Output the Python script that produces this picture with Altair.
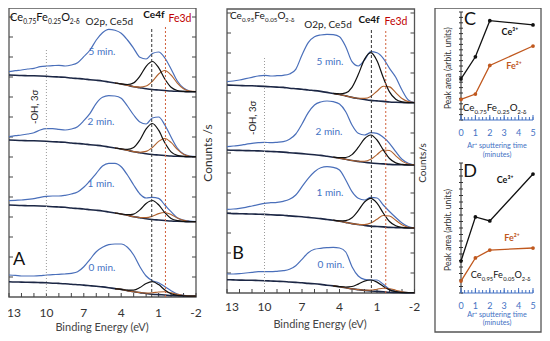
import altair as alt
import pandas as pd

FONT = "Lato"
BLUE = "#4A6FBA"
NAVY = "#1C2745"
BROWN = "#B0622E"
LABEL_BLUE = "#4472C4"
RED = "#C00000"
FRAME = "#555555"

# ---------------- data ----------------
E_GRID = [13, 12.5, 12, 11.5, 11, 10.5, 10, 9.5, 9, 8.5, 8, 7.5, 7, 6.5, 6, 5.5, 5,
          4.5, 4, 3.5, 3, 2.5, 2, 1.5, 1, 0.5, 0, -0.5, -1, -1.5, -2]
E_PEAK = [4.5, 4, 3.5, 3, 2.5, 2, 1.5, 1, 0.5, 0, -0.5, -1, -1.5, -2]

# Panel A  (Ce0.75Fe0.25O2-d)
A_5 = [225.3, 226.3, 227, 228, 228.7, 230.3, 231, 231.3, 231.7, 231, 232, 234.3, 240.3, 247, 257, 264.3,
       267.7, 266.7, 263.7, 257, 248.7, 239.7, 238, 243.5, 245, 239, 228, 216, 209, 206, 205.3]
A_2 = [160.3, 161.3, 162, 163, 164.3, 167, 168.3, 168.3, 167.7, 167, 168, 170.3, 176.3, 183.7, 193.7, 199.7,
       201.3, 201, 198.7, 191, 182, 175, 173, 179, 180, 172, 160, 149, 143, 141, 140.5]
A_1 = [96.3, 96.7, 97, 97.7, 98.3, 99.7, 100.7, 101, 101, 101.7, 103, 105, 109.7, 116.3, 123.7, 131,
       133.7, 133.7, 130.3, 122, 112, 103, 99, 99.7, 98.6, 92, 85.3, 79.3, 77, 76, 75.5]
A_0 = [22, 21.7, 21, 21, 21, 21.3, 22, 22.3, 22.7, 23, 23.7, 25.3, 30.3, 37.7, 45.3, 49.7,
       52.3, 53, 53, 49.7, 42, 30.3, 21, 16.3, 14.3, 10.3, 6.3, 3, 1.7, 1, 1]
A_5_BG = [222, 221.7, 221.5, 221.3, 221.2, 221, 220.7, 220.3, 220, 219.7, 219, 218.5, 218, 217.3, 216.7, 216,
          215, 214, 213, 211.7, 210.3, 209.3, 208.3, 207.5, 207, 206.5, 206, 205.7, 205.5, 205.3, 205.3]
A_2_BG = [157, 156.7, 156.5, 156.3, 156.2, 156, 155.7, 155.3, 155, 154.7, 154, 153.5, 153, 152.3, 151.7, 151,
          150, 149, 148, 146.7, 145.3, 144.3, 143.3, 142.5, 142, 141.5, 141, 140.7, 140.5, 140.3, 140.3]
A_1_BG = [92, 91.7, 91.5, 91.3, 91.2, 91, 90.7, 90.3, 90, 89.7, 89, 88.5, 88, 87.3, 86.7, 86,
          85, 84, 83, 81.7, 80.3, 79.3, 78.3, 77.5, 77, 76.5, 76, 75.7, 75.5, 75.3, 75.3]
A_0_BG = [15.3, 15.0, 14.9, 14.7, 14.6, 14.4, 14.2, 13.8, 13.6, 13.3, 12.7, 12.3, 11.9, 11.3, 10.7, 10.1,
          9.3, 8.4, 7.6, 6.4, 5.2, 4.4, 3.5, 2.8, 2.4, 2.0, 1.5, 1.3, 1.1, 0.9, 0.9]
A_5_CE = [214, 213.1, 212.5, 214.1, 220.8, 230.7, 235.5, 229.4, 218.0, 209.8, 206.5, 205.6, 205.3, 205.3]
A_5_FE = [214, 213, 211.7, 210.4, 209.9, 211.0, 215.7, 223.0, 226.5, 222.0, 213.9, 208.2, 205.9, 205.4]
A_2_CE = [149, 148.1, 147.6, 149.5, 157.0, 168.1, 173.5, 166.8, 154.2, 145.2, 141.6, 140.6, 140.3, 140.3]
A_2_FE = [149, 148, 146.7, 145.4, 144.8, 145.6, 149.5, 155.6, 158.5, 154.6, 147.7, 142.8, 140.8, 140.4]
A_1_CE = [84, 83, 82.3, 82.9, 87.1, 93.5, 96.5, 92.2, 84.3, 78.6, 76.3, 75.6, 75.3, 75.3]
A_1_FE = [84, 83, 81.7, 80.3, 79.5, 79.4, 80.8, 83.4, 84.5, 82.4, 79.0, 76.6, 75.5, 75.3]
A_0_CE = [8.4, 7.6, 6.8, 6.9, 9.5, 13.5, 15.3, 12.4, 7.1, 3.2, 1.7, 1.2, 0.9, 0.9]
A_0_FE = [8.4, 7.6, 6.4, 5.2, 4.5, 3.9, 4.2, 5.0, 5.3, 4.1, 2.7, 1.5, 1.0, 0.9]

# Panel B  (Ce0.95Fe0.05O2-d)
B_5 = [211.3, 212, 213, 214.3, 215.7, 217, 217.7, 217, 217.3, 217.7, 219, 223.7, 238, 250.3, 256.3, 258,
       258.7, 258.3, 256.3, 246.3, 231.3, 227, 233, 241.3, 240.3, 234.7, 224.7, 215.7, 203, 193, 190.3]
B_2 = [146.3, 147, 147.7, 148.7, 149.7, 150.3, 150.7, 150.3, 150.7, 151.3, 153.7, 159, 169, 180.3, 188, 191,
       192, 191.3, 189, 181.3, 168, 159.7, 158, 160.3, 159.7, 155.7, 149.7, 141.3, 133.7, 129.7, 128]
B_1 = [83.7, 84, 84.7, 85.7, 87, 88.3, 89.7, 90.3, 90.7, 91.7, 93.7, 98, 106.3, 114.7, 121.3, 125.3,
       126.3, 125.7, 123, 113, 101.3, 94.7, 93, 95.7, 95, 88, 81.5, 75.5, 70, 66.5, 65]
B_0 = [19, 19, 19.3, 20, 20.7, 21.3, 21.3, 21.3, 21.7, 22.3, 23.7, 27.3, 33.7, 40.3, 43.7, 44.7,
       45.3, 45.7, 45, 41, 26.3, 17, 13.7, 13, 13, 8.7, 4, 1.7, 0.8, 0.4, 0.3]
B_5_BG = [208, 207.7, 207.5, 207.3, 207.2, 206.9, 206.6, 206.2, 205.9, 205.6, 204.8, 204.3, 203.8, 203.0, 202.4, 201.6,
          200.6, 199.5, 198.5, 197.1, 195.6, 194.5, 193.5, 192.6, 192.1, 191.6, 191.0, 190.7, 190.5, 190.3, 190.3]
B_2_BG = [143, 142.7, 142.6, 142.4, 142.3, 142.1, 141.8, 141.5, 141.2, 140.9, 140.3, 139.9, 139.4, 138.8, 138.2, 137.6,
          136.7, 135.8, 134.9, 133.7, 132.5, 131.6, 130.7, 130.0, 129.5, 129.1, 128.6, 128.3, 128.2, 128.0, 128.0]
B_1_BG = [79.7, 79.4, 79.3, 79.1, 79.0, 78.8, 78.6, 78.2, 77.9, 77.7, 77.1, 76.6, 76.2, 75.6, 75.0, 74.4,
          73.5, 72.7, 71.8, 70.6, 69.4, 68.5, 67.6, 66.9, 66.5, 66.1, 65.6, 65.4, 65.2, 65.0, 65.0]
B_0_BG = [13.3, 13.1, 12.9, 12.8, 12.7, 12.5, 12.3, 12.0, 11.7, 11.5, 11.0, 10.6, 10.2, 9.6, 9.2, 8.6,
          7.8, 7.1, 6.3, 5.3, 4.2, 3.4, 2.6, 2.0, 1.6, 1.2, 0.8, 0.6, 0.4, 0.3, 0.3]
B_5_CE = [199.6, 199.1, 200.1, 205.7, 218.4, 233.6, 240.3, 232.2, 215.5, 201.1, 193.7, 191.1, 190.4, 190.3]
B_5_FE = [199.5, 198.5, 197.1, 195.6, 194.7, 194.6, 196.6, 201.8, 206.7, 206.1, 200.4, 194.5, 191.4, 190.5]
B_2_CE = [135.9, 135.3, 135.5, 138.4, 145.6, 154.2, 158.0, 153.0, 143.1, 134.5, 130.1, 128.6, 128.1, 128.0]
B_2_FE = [135.8, 134.9, 133.7, 132.5, 131.8, 131.7, 133.7, 138.4, 143.0, 142.5, 137.2, 131.9, 129.0, 128.2]
B_1_CE = [72.8, 72.2, 72.4, 75.3, 82.4, 91.0, 94.7, 89.9, 80.0, 71.5, 67.2, 65.6, 65.1, 65.0]
B_1_FE = [72.7, 71.8, 70.6, 69.4, 68.6, 68.4, 69.9, 73.8, 77.5, 77.0, 72.7, 68.2, 65.8, 65.1]
B_0_CE = [7.1, 6.4, 6.0, 6.5, 8.9, 11.9, 13.0, 10.9, 6.7, 3.1, 1.3, 0.5, 0.3, 0.3]
B_0_FE = [7.1, 6.3, 5.3, 4.2, 3.4, 2.8, 2.9, 3.8, 4.7, 4.3, 2.8, 1.3, 0.5, 0.3]

# Peak positions (eV)
A_LINES = [10, 1.55, 0.45]
B_LINES = [10, 1.45, 0.3]

# Panels C / D : peak areas vs sputtering time
TIME = [0, 1, 2, 5]
C_CE = [38, 58.5, 92, 88]
C_FE = [19, 24, 50.5, 68.5]
D_CE = [24.6, 58.5, 55.4, 91.5]
D_FE = [9.2, 27, 33, 34.6]

# compositions (main text, subscript)
FORMULA_A = [("Ce", False), ("0.75", True), ("Fe", False), ("0.25", True), ("O", False), ("2-δ", True)]
FORMULA_B = [("Ce", False), ("0.95", True), ("Fe", False), ("0.05", True), ("O", False), ("2-δ", True)]

# ticks & labels
BE_LABELS = [10, 7, 4, 1, -2]
BE_FIRST = [13]
BE_TICKS = [13, 12, 11, 10, 9, 8, 7, 6, 5, 4, 3, 2, 1, 0, -1, -2]
COUNT_TICKS = [20, 40, 60, 80, 100, 120, 140, 160, 180, 200, 220, 240, 260, 280]
T_LABELS = [0, 1, 2, 3, 4, 5]
T_MINOR = [i / 4 for i in range(21)]
AREA_TICKS = [i * 5 for i in range(21)]
SCAN_LABELS = ["5 min.", "2 min.", "1 min.", "0 min."]

# approximate Lato advance widths (em) used to chain formula pieces
LATO_W = {"C": 0.67, "e": 0.53, "F": 0.55, "O": 0.77, ".": 0.24, "-": 0.37, "δ": 0.55}

# ---------------- scales ----------------
SX_A = alt.Scale(domain=[13, -2], range=[1, 188])
SY_A = alt.Scale(domain=[0, 289], range=[289, 0])
SX_B = alt.Scale(domain=[13, -2], range=[219, 406.5])
SY_B = alt.Scale(domain=[0, 284], range=[285, 1])
SX_C = alt.Scale(domain=[0, 5], range=[453, 525])
SY_C = alt.Scale(domain=[0, 100], range=[112, 4])
SX_D = alt.Scale(domain=[0, 5], range=[453, 525])
SY_D = alt.Scale(domain=[0, 100], range=[285, 155])


def xy(xs, ys, xf="x", yf="y"):
    return dict(x=alt.X(f"{xf}:Q", scale=xs, axis=None), y=alt.Y(f"{yf}:Q", scale=ys, axis=None))


def curves(xs, ys, grid, series, color, width):
    rows = [{"x": e, "y": v, "scan": name} for name, vals in series.items() for e, v in zip(grid, vals)]
    return alt.Chart(pd.DataFrame(rows)).mark_line(
        color=color, strokeWidth=width, interpolate="monotone"
    ).encode(detail="scan:N", **xy(xs, ys))


def frame(xs, ys, x1, x2, y1, y2, color=FRAME, width=1.3):
    df = pd.DataFrame({"x": [x1], "x2": [x2], "y": [y1], "y2": [y2]})
    return alt.Chart(df).mark_rect(fillOpacity=0, stroke=color, strokeWidth=width).encode(
        x2="x2:Q", y2="y2:Q", **xy(xs, ys))


def rule(xs, ys, x1, x2, y1, y2, color, width=1):
    df = pd.DataFrame({"x": [x1], "x2": [x2], "y": [y1], "y2": [y2]})
    return alt.Chart(df).mark_rule(color=color, strokeWidth=width).encode(x2="x2:Q", y2="y2:Q", **xy(xs, ys))


def vline(xs, ys, e, top, color, dash, width=1):
    df = pd.DataFrame({"x": [e], "y": [0], "y2": [top]})
    return alt.Chart(df).mark_rule(color=color, strokeDash=dash, strokeWidth=width).encode(
        y2="y2:Q", **xy(xs, ys))


def ticks(xs, ys, xvals, yvals, orient, size, color="#444", xoff=0, yoff=0):
    df = pd.DataFrame({"x": xvals, "y": yvals})
    return alt.Chart(df).mark_tick(orient=orient, size=size, thickness=1, color=color,
                                   xOffset=xoff, yOffset=yoff, opacity=1).encode(**xy(xs, ys))


def texts(xs, ys, xvals, yvals, strings, **kw):
    df = pd.DataFrame({"x": xvals, "y": yvals, "t": strings})
    props = dict(font=FONT, fontSize=10, color="#222", align="center", baseline="middle")
    props.update(kw)
    return alt.Chart(df).mark_text(**props).encode(text="t:N", **xy(xs, ys))


def formula(xs, ys, x, y, parts, main, sub):
    layers, off = [], 0.0
    for s, is_sub in parts:
        size = sub if is_sub else main
        layers.append(texts(xs, ys, [x], [y], [s], align="left", baseline="alphabetic",
                            fontSize=size, dx=round(off, 1), dy=round(main * 0.3, 1) if is_sub else 0,
                            color="#111"))
        off += sum(LATO_W.get(ch, 0.58) for ch in s) * size
    return layers


def spectra_panel(xs, ys, data, bg, ce, fe, lines, ytop, tops, lab_y):
    return [
        frame(xs, ys, 13, -2, 0, ytop),
        ticks(xs, ys, BE_TICKS, [0] * len(BE_TICKS), "vertical", 4, yoff=-2),
        ticks(xs, ys, [13] * len(COUNT_TICKS), COUNT_TICKS, "horizontal", 4, xoff=2),
        ticks(xs, ys, [-2] * len(COUNT_TICKS), COUNT_TICKS, "horizontal", 4, xoff=-2),
        curves(xs, ys, E_GRID, data, BLUE, 1.2),
        curves(xs, ys, E_GRID, bg, NAVY, 1.6),
        curves(xs, ys, E_PEAK, fe, BROWN, 1.1),
        curves(xs, ys, E_PEAK, ce, "#111111", 1.2),
        vline(xs, ys, lines[0], tops[0], "#9A9A9A", [1, 2], 1),
        vline(xs, ys, lines[1], tops[1], "#333333", [3, 2], 1),
        vline(xs, ys, lines[2], tops[2], "#D0603A", [2, 2], 1),
        texts(xs, ys, BE_LABELS, [lab_y] * len(BE_LABELS), [str(v) for v in BE_LABELS],
              fontSize=12, color="#333"),
        texts(xs, ys, BE_FIRST, [lab_y], [str(v) for v in BE_FIRST],
              fontSize=12, color="#333", align="left", dx=-2),
    ]


# ---------------- panel A ----------------
panel_a = alt.layer(
    *spectra_panel(
        SX_A, SY_A,
        {"5": A_5, "2": A_2, "1": A_1, "0": A_0},
        {"5": A_5_BG, "2": A_2_BG, "1": A_1_BG, "0": A_0_BG},
        {"5": A_5_CE, "2": A_2_CE, "1": A_1_CE, "0": A_0_CE},
        {"5": A_5_FE, "2": A_2_FE, "1": A_1_FE, "0": A_0_FE},
        A_LINES, 289, [247, 268, 270], -16),
    *formula(SX_A, SY_A, 12.92, 276, FORMULA_A, 11, 6.6),
    texts(SX_A, SY_A, [4.95], [275], ["O2p, Ce5d"], fontSize=10),
    texts(SX_A, SY_A, [1.37], [282], ["Ce4f"], fontSize=10, fontWeight="bold", color="#111"),
    texts(SX_A, SY_A, [-0.71], [278], ["Fe3d"], fontSize=10.5, color=RED),
    texts(SX_A, SY_A, [10.91], [190], ["-OH, 3σ"], fontSize=9.5, angle=270),
    texts(SX_A, SY_A, [5.54, 5.62, 5.62, 5.54], [245, 175, 113, 29], SCAN_LABELS,
          fontSize=10, color=LABEL_BLUE),
    texts(SX_A, SY_A, [12.2], [37], ["A"], fontSize=18, color="#111"),
    texts(SX_A, SY_A, [5.54], [-30.5], ["Binding Energy (eV)"], fontSize=11, color="#444"),
    texts(SX_A, SY_A, [-2.96], [144], ["Conunts /s"], fontSize=12, angle=270, color="#333"),
)

# ---------------- panel B ----------------
panel_b = alt.layer(
    *spectra_panel(
        SX_B, SY_B,
        {"5": B_5, "2": B_2, "1": B_1, "0": B_0},
        {"5": B_5_BG, "2": B_2_BG, "1": B_1_BG, "0": B_0_BG},
        {"5": B_5_CE, "2": B_2_CE, "1": B_1_CE, "0": B_0_CE},
        {"5": B_5_FE, "2": B_2_FE, "1": B_1_FE, "0": B_0_FE},
        B_LINES, 284, [236, 263, 263], -14),
    *formula(SX_B, SY_B, 12.76, 274, FORMULA_B, 10, 6.2),
    texts(SX_B, SY_B, [4.92], [268], ["O2p, Ce5d"], fontSize=10),
    texts(SX_B, SY_B, [1.64], [273], ["Ce4f"], fontSize=10, fontWeight="bold", color="#111"),
    texts(SX_B, SY_B, [-0.52], [271], ["Fe3d"], fontSize=10.5, color=RED),
    texts(SX_B, SY_B, [10.92], [175], ["-OH, 3σ"], fontSize=9.5, angle=270),
    texts(SX_B, SY_B, [4.76, 4.84, 4.76, 4.68], [231, 161, 100, 28], SCAN_LABELS,
          fontSize=10, color=LABEL_BLUE),
    texts(SX_B, SY_B, [12.12], [39], ["B"], fontSize=18, color="#111"),
    texts(SX_B, SY_B, [5.56], [-32], ["Binding Energy (eV)"], fontSize=11, color="#444"),
    texts(SX_B, SY_B, [-2.68], [130], ["Counts/s"], fontSize=10, angle=270, color="#333"),
)


# ---------------- panels C / D ----------------
def trend(xs, ys, vals, color):
    df = pd.DataFrame({"x": TIME, "y": vals})
    base = alt.Chart(df).encode(**xy(xs, ys))
    return [base.mark_line(color=color, strokeWidth=1.3),
            base.mark_point(filled=True, color=color, size=14, opacity=1)]


def area_panel(xs, ys, ce, fe, letter, letter_y, ce_pos, fe_pos, parts, f_pos, f_main, f_sub,
               lab_y, t1_y, t2_y, ytitle_y):
    return [
        rule(xs, ys, 0, 0, 0, 100, "#222", 1),
        rule(xs, ys, 0, 5, 0, 0, LABEL_BLUE, 1),
        ticks(xs, ys, [0] * len(AREA_TICKS), AREA_TICKS, "horizontal", 4, color="#333"),
        ticks(xs, ys, T_MINOR, [0] * len(T_MINOR), "vertical", 3, color=LABEL_BLUE, yoff=-1.5),
        ticks(xs, ys, T_LABELS, [0] * len(T_LABELS), "vertical", 5, color=LABEL_BLUE, yoff=-2.5),
        *trend(xs, ys, ce, "#111111"),
        *trend(xs, ys, fe, "#C0581E"),
        texts(xs, ys, [0.63], [letter_y], [letter], fontSize=18, color="#111"),
        texts(xs, ys, [ce_pos[0]], [ce_pos[1]], ["Ce³⁺"], fontSize=9, fontWeight="bold", color="#111"),
        texts(xs, ys, [fe_pos[0]], [fe_pos[1]], ["Fe²⁺"], fontSize=9, fontWeight="bold", color="#C0581E"),
        *formula(xs, ys, f_pos[0], f_pos[1], parts, f_main, f_sub),
        texts(xs, ys, T_LABELS, [lab_y] * 6, [str(v) for v in T_LABELS], fontSize=9, color=LABEL_BLUE),
        texts(xs, ys, [2.5], [t1_y], ["Ar⁺ sputtering time"], fontSize=7.2, color=LABEL_BLUE),
        texts(xs, ys, [2.5], [t2_y], ["(minutes)"], fontSize=7.2, color=LABEL_BLUE),
        texts(xs, ys, [-0.87], [ytitle_y], ["Peak area (arbit. units)"], fontSize=8.5, angle=270, color="#333"),
    ]


panel_c = alt.layer(
    frame(SX_C, SY_C, -1.806, 5.556, -196.3, 103.7, color="#555", width=1.3),
    *area_panel(SX_C, SY_C, C_CE, C_FE, "C", 92.6, (3.4, 81.5), (3.68, 50),
                FORMULA_A, (0.12, 7.9), 9.8, 6.2, -12, -24.5, -32.8, 48),
)
panel_d = alt.layer(
    *area_panel(SX_D, SY_D, D_CE, D_FE, "D", 93, (3.06, 87), (3.54, 42.3),
                FORMULA_B, (0.67, 11.5), 9.2, 5.8, -10, -16.6, -23.3, 48.5),
)

chart = alt.layer(panel_a, panel_b, panel_c, panel_d).resolve_scale(
    x="independent", y="independent"
).properties(
    width=534, height=325, padding=0,
    autosize=alt.AutoSizeParams(type="none"),
    background="white",
).configure_view(stroke=None)

chart.save("out.html", embed_options={"renderer": "svg", "actions": False})
